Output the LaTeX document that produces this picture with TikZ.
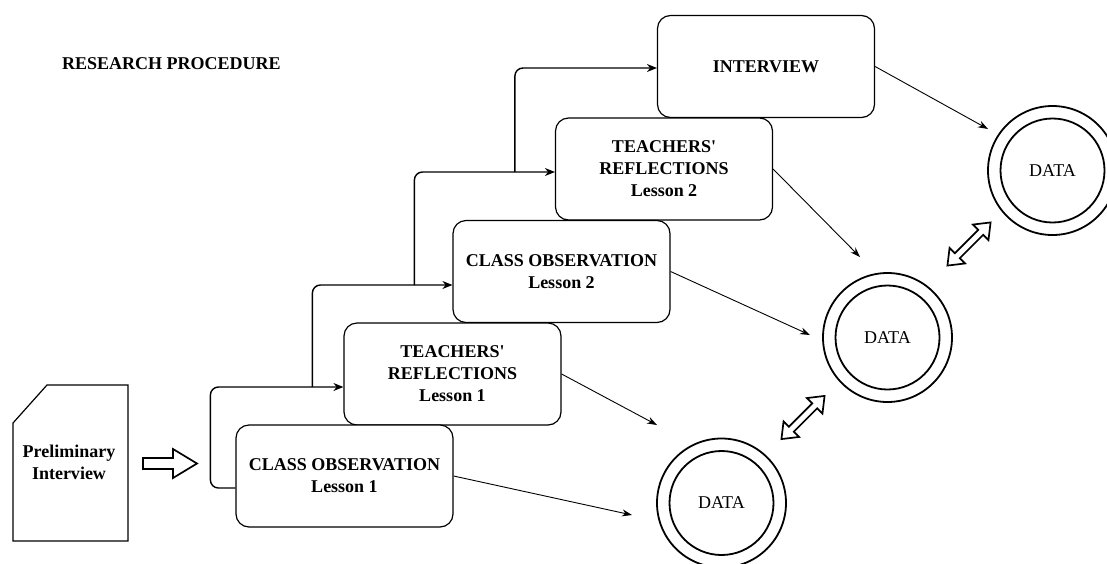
\documentclass[tikz,border=0pt]{standalone}
\usepackage{fontspec}
\setmainfont{Liberation Serif}
\usetikzlibrary{arrows.meta,calc}
\begin{document}
\begin{tikzpicture}[x=1pt,y=-1pt,
  txt/.style={font=\fontsize{18}{22}\selectfont\bfseries, align=center, inner sep=0},
  box/.style={txt, draw, fill=white, line width=1.2pt, rounded corners=13pt,
    minimum width=217pt, minimum height=102pt},
  datao/.style={circle, draw, line width=1.8pt, minimum size=129pt, inner sep=0,
    font=\fontsize{18}{22}\selectfont},
  datai/.style={line width=1.8pt},
  flow/.style={line width=1.4pt, rounded corners=8pt, -{Stealth[length=10pt,width=8pt]}},
  thin/.style={line width=0.9pt, -{Stealth[length=10pt,width=7pt]}},
  hollow/.style={draw, line width=1.7pt, fill=white, line join=miter}]
\useasboundingbox (0,0) rectangle (1107,563);

% title
\node[txt, anchor=west] (title) at (62,64) {RESEARCH PROCEDURE};

% preliminary interview card
\draw[line width=1.2pt] (13,423) -- (47,385) -- (128,385) -- (128,541) -- (13,541) -- cycle;
\node[txt] (pi) at (69,462.5) {Preliminary\\Interview};

% hollow arrow
\draw[hollow] (143,458) -- (173,458) -- (173,449) -- (197,463.5) -- (173,478) -- (173,469) -- (143,469) -- cycle;

% boxes
\node[box] (int) at (766,66.5) {INTERVIEW};
\node[box] (tr2) at (664,169) {TEACHERS\textquotesingle\\REFLECTIONS\\Lesson 2};
\node[box] (co2) at (561.5,271.5) {CLASS OBSERVATION\\Lesson 2};
\node[box] (tr1) at (452.5,374) {TEACHERS\textquotesingle\\REFLECTIONS\\Lesson 1};
\node[box] (co1) at (344.5,476) {CLASS OBSERVATION\\Lesson 1};

% elbow connectors
\draw[flow] ([yshift=-12pt]co1.west) -- ++(-25,0) |- ([yshift=-13pt]tr1.west);
\draw[flow] ([xshift=-31pt,yshift=-13pt]tr1.west) |- ([yshift=-13.5pt]co2.west);
\draw[flow] ([xshift=-38pt,yshift=-13.5pt]co2.west) |- ([yshift=-3pt]tr2.west);
\draw[flow] ([xshift=-40pt,yshift=-3pt]tr2.west) |- ([yshift=-1.5pt]int.west);

% data circles
\node[datao] (d1) at (721.5,503) {DATA};
\node[datao] (d2) at (887.5,337.5) {DATA};
\node[datao] (d3) at (1052.5,170.5) {DATA};
\draw[datai] (d1.center) circle[radius=52];
\draw[datai] (d2.center) circle[radius=52];
\draw[datai] (d3.center) circle[radius=52];

% arrow tips
\coordinate (t1) at (632,515);
\coordinate (t2) at (657,425);
\coordinate (t3) at (810,335);
\coordinate (t4) at (860,257);
\coordinate (t5) at (988,129);
\draw[thin] (co1.east) -- (t1);
\draw[thin] (tr1.east) -- (t2);
\draw[thin] (co2.east) -- (t3);
\draw[thin] (tr2.east) -- (t4);
\draw[thin] (int.east) -- (t5);

% double hollow arrows
\coordinate (m1) at (803,417.5);
\coordinate (m2) at (969,244);
\foreach \m in {m1,m2}{
  \begin{scope}[shift={(\m)}, rotate=45]
    \draw[hollow] (-30.5,0) -- (-16.5,11) -- (-16.5,3.5) -- (16.5,3.5) -- (16.5,11) -- (30.5,0)
      -- (16.5,-11) -- (16.5,-3.5) -- (-16.5,-3.5) -- (-16.5,-11) -- cycle;
  \end{scope}
}
\end{tikzpicture}
\end{document}
